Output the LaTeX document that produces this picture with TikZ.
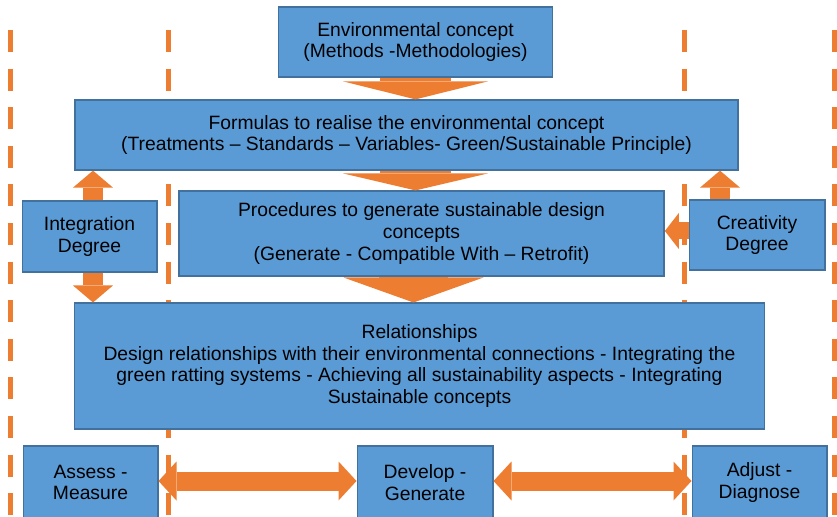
\documentclass[tikz,border=0pt]{standalone}
\usepackage{fontspec}
\setmainfont{Liberation Sans}
\usetikzlibrary{arrows.meta}
\definecolor{boxblue}{HTML}{5B9BD5}
\definecolor{boxline}{HTML}{41719C}
\definecolor{arrorange}{HTML}{ED7D31}

\begin{document}
\begin{tikzpicture}
		[
		x=1bp, y=-1bp, font=\fontsize{19.3bp}{21.8bp}\selectfont,
		%blue boxes
		box/.style={draw=boxline, fill=boxblue, line width=1.5bp, align=center, inner sep=0pt, text=black},
		%orange block arrows: shaft width, head width, head length
		blockarr/.style n args={3}{arrorange, line width=#1, -{Triangle[width=#2, length=#3, line width=0pt]}},
		twoarr/.style n args={3}{arrorange, line width=#1, {Triangle[width=#2, length=#3, line width=0pt]}-{Triangle[width=#2, length=#3, line width=0pt]}},
		%dashed guide lines
		guide/.style={arrorange, line width=5bp, dash pattern=on 22bp off 16.6bp}
		]
		
		\useasboundingbox (0,0) rectangle (837,517);
		
		%dashed lines in the background
		\foreach \x in {10.5,168,684,834}
		\draw[guide] (\x,30) -- (\x,530);
		
		%main column
		\node[box, minimum width=275, minimum height=70] (env) at (415.5,42) {Environmental concept\\(Methods -Methodologies)};
		\node[box, minimum width=665, minimum height=70] (form) at (406.5,135) {Formulas to realise the environmental concept\\(Treatments -- Standards -- Variables- Green/Sustainable Principle)};
		\node[box, minimum width=487, minimum height=85] (proc) at (421.5,233.5) {Procedures to generate sustainable design\\concepts\\(Generate - Compatible With -- Retrofit)};
		\node[box, minimum width=693, minimum height=126] (rel) at (419.5,366) {Relationships\\Design relationships with their environmental connections - Integrating the\\green ratting systems - Achieving all sustainability aspects - Integrating\\Sustainable concepts};
		
		%side boxes
		\node[box, minimum width=135, minimum height=71] (integ) at (89.5,236.5) {Integration\\Degree};
		\node[box, minimum width=136, minimum height=70] (crea) at (757,235) {Creativity\\Degree};
		
		%bottom row
		\node[box, minimum width=135, minimum height=73] (assess) at (90.5,482.5) {Assess -\\Measure};
		\node[box, minimum width=136, minimum height=73] (develop) at (425,482.5) {Develop -\\Generate};
		\node[box, minimum width=135, minimum height=73] (adjust) at (759.5,482.5) {Adjust -\\Diagnose};
		
		%arrows down the column
		\draw[blockarr={71bp}{145bp}{18bp}] (env.south) -- (env.south |- form.north);
		\draw[blockarr={71bp}{145bp}{17bp}] (env.south |- form.south) -- (env.south |- proc.north);
		\draw[blockarr={69bp}{140bp}{25bp}] ([xshift=-2bp]env.south |- proc.south) -- ([xshift=-2bp]env.south |- rel.north);
		
		%arrows from the degrees
		\draw[blockarr={20bp}{40bp}{17bp}] ([xshift=3.5bp]integ.north) -- ([xshift=3.5bp]integ.north |- form.south);
		\draw[blockarr={20bp}{40bp}{17bp}] ([xshift=3.5bp]integ.south) -- ([xshift=3.5bp]integ.south |- rel.north);
		\draw[blockarr={20bp}{40bp}{17bp}] ([xshift=-37bp]crea.north) -- ([xshift=-37bp]crea.north |- form.south);
		\draw[blockarr={17bp}{36bp}{14bp}] ([yshift=4bp]crea.west) -- ([yshift=4bp]crea.west -| proc.east);
		
		%double arrows in the bottom row
		\draw[twoarr={19bp}{39bp}{18bp}] ([yshift=1.5bp]assess.east) -- ([yshift=1.5bp]develop.west);
		\draw[twoarr={19bp}{39bp}{18bp}] ([yshift=1.5bp]develop.east) -- ([yshift=1.5bp]adjust.west);
		
\end{tikzpicture}
\end{document}
